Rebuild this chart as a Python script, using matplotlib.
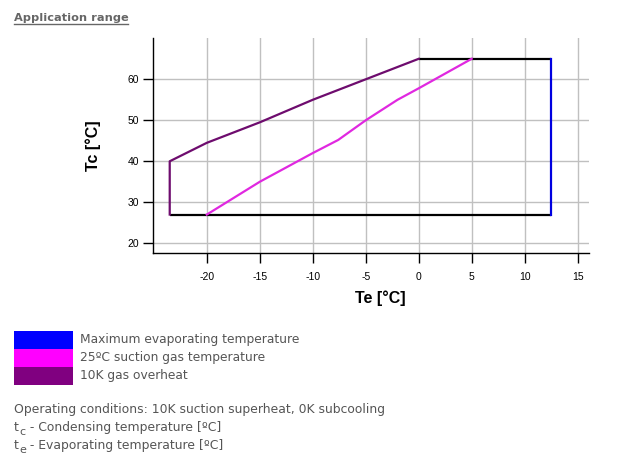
import numpy as np
import matplotlib.pyplot as plt
from matplotlib.patches import Rectangle
from matplotlib.lines import Line2D
from matplotlib import font_manager

plt.rcParams['axes.unicode_minus'] = False

# envelope data (Te, Tc)
te_overheat = [-23.5, -23.5, -20, -15, -10, -5, 0]
tc_overheat = [27, 40, 44.5, 49.5, 55, 60, 65]
te_suction = [-20, -15, -10, -7.6, -5, -2, 0, 5]
tc_suction = [27, 35, 42, 45.2, 50, 55, 57.8, 65]
te_top = [0, 12.5]
tc_top = [65, 65]
te_bottom = [-23.5, 12.5]
tc_bottom = [27, 27]
te_max = [12.5, 12.5]
tc_max = [27, 65]

x_ticks = [-20, -15, -10, -5, 0, 5, 10, 15]
y_ticks = [20, 30, 40, 50, 60]

legend_labels = ['Maximum evaporating temperature', '25ºC suction gas temperature', '10K gas overheat']
legend_colors = ['#0000ff', '#ff00ff', '#800080']
note_head = 'Operating conditions: 10K suction superheat, 0K subcooling'
# (symbol, subscript, description)
note_vars = [('t', 'c', ' - Condensing temperature [ºC]'),
             ('t', 'e', ' - Evaporating temperature [ºC]')]

names = {f.name for f in font_manager.fontManager.ttflist}
if 'Liberation Sans Narrow' in names:
    narrow = ['Liberation Sans Narrow', 'DejaVu Sans']
    lab_size, tick_size = 12, 8.2
else:
    narrow = ['Liberation Sans', 'DejaVu Sans']
    lab_size, tick_size = 11.5, 7.5

W, H = 619, 459
fig = plt.figure(figsize=(W / 100, H / 100), dpi=100)
ax = fig.add_axes([153.3 / W, 1 - 253.3 / H, 436 / W, 215 / H])

ax.plot(te_bottom, tc_bottom, color='black', lw=1.6, solid_capstyle='butt')
ax.plot(te_top, tc_top, color='black', lw=1.6, solid_capstyle='butt')
ax.plot(te_max, tc_max, color='#0000e0', lw=1.6)
ax.plot(te_suction, tc_suction, color='#e028e0', lw=1.6)
ax.plot(te_overheat, tc_overheat, color='#6e0c6e', lw=1.6)

ax.set_xlim(-25.05, 16.1)
ax.set_ylim(17.55, 70)
ax.set_xticks(x_ticks)
ax.set_yticks(y_ticks)
ax.grid(True, color='#c0c0c0', lw=1)
ax.set_axisbelow(True)
for s in ['top', 'right']:
    ax.spines[s].set_visible(False)
for s in ['left', 'bottom']:
    ax.spines[s].set_linewidth(1)
ax.tick_params(axis='x', length=7.2, width=1, pad=6.5, labelsize=tick_size)
ax.tick_params(axis='y', length=7.2, width=1, pad=3, labelsize=tick_size)
for lab in ax.get_xticklabels() + ax.get_yticklabels():
    lab.set_family(narrow)

fig.text(380 / W, 1 - 298 / H, 'Te [°C]', ha='center', va='center', fontsize=lab_size,
         fontweight='bold', family=narrow)
fig.text(93 / W, 1 - 145.8 / H, 'Tc [°C]', ha='center', va='center', fontsize=lab_size,
         fontweight='bold', family=narrow, rotation=90)

# title with underline
fig.text(14 / W, 1 - 18 / H, 'Application range', ha='left', va='center', fontsize=8.2,
         fontweight='bold', color='#666666', family='DejaVu Sans')
fig.add_artist(Line2D([14 / W, 128 / W], [1 - 24 / H, 1 - 24 / H], color='#666666', lw=1))

# legend boxes
box_top = 331
box_h = 18
for i, (lab, col) in enumerate(zip(legend_labels, legend_colors)):
    y0 = box_top + i * box_h
    fig.add_artist(Rectangle((14 / W, 1 - (y0 + box_h) / H), 59 / W, box_h / H,
                             facecolor=col, edgecolor='none'))
    fig.text(80 / W, 1 - (y0 + box_h / 2) / H, lab, ha='left', va='center',
             fontsize=8.8, color='#555555', family='DejaVu Sans')

# notes; subscripts placed by hand so they keep a readable size
txt_kw = dict(color='#555555', family='DejaVu Sans', ha='left', va='baseline')
fig.text(14 / W, 1 - 413 / H, note_head, fontsize=8.9, **txt_kw)
renderer = fig.canvas.get_renderer()
for i, (sym, sub, desc) in enumerate(note_vars):
    base = 431 + i * 18
    t1 = fig.text(14 / W, 1 - base / H, sym, fontsize=8.9, **txt_kw)
    x = t1.get_window_extent(renderer).x1 + 0.5
    t2 = fig.text(x / W, 1 - (base + 4) / H, sub, fontsize=8.0, **txt_kw)
    x = t2.get_window_extent(renderer).x1
    fig.text(x / W, 1 - base / H, desc, fontsize=8.9, **txt_kw)

fig.savefig('out.png', dpi=100)
